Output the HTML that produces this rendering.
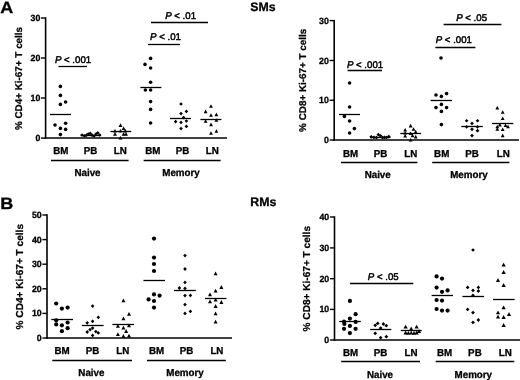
<!DOCTYPE html><html><head><meta charset="utf-8"><style>html,body{margin:0;padding:0;background:#fff}svg{display:block;filter:grayscale(1) blur(0.35px)}text{font-family:"Liberation Sans", sans-serif;fill:#000;text-rendering:geometricPrecision;stroke:#000;stroke-width:0.3px;stroke-linejoin:round}.p{stroke-width:0.48px}.t{stroke-width:0.3px}.c{stroke-width:0.3px}.y{stroke-width:0.25px}</style></head><body>
<svg width="520" height="380" viewBox="0 0 520 380">
<rect width="520" height="380" fill="#fff"/>
<g fill="#000">
<text transform="translate(0.3 12.8) scale(1.1 1)" font-size="16.4" font-weight="bold" stroke-width="0">A</text>
<text transform="translate(0.3 208.9) scale(1.1 1)" font-size="16.4" font-weight="bold" stroke-width="0">B</text>
<text x="263.0" y="10.9" font-size="12.3" font-weight="bold" text-anchor="middle" >SMs</text>
<text x="263.3" y="206.1" font-size="12.3" font-weight="bold" text-anchor="middle" >RMs</text>
<line x1="45.6" y1="17.3" x2="45.6" y2="138.8" stroke="#000" stroke-width="1.6"/>
<line x1="44.8" y1="138.1" x2="227.0" y2="138.1" stroke="#000" stroke-width="1.5"/>
<line x1="41.0" y1="18.0" x2="45.6" y2="18.0" stroke="#000" stroke-width="1.4"/>
<text transform="translate(40.3 21.0) scale(0.971 1)" font-size="9.06" font-weight="bold" text-anchor="end" class="t" >30</text>
<line x1="41.0" y1="58.0" x2="45.6" y2="58.0" stroke="#000" stroke-width="1.4"/>
<text transform="translate(40.3 61.0) scale(0.971 1)" font-size="9.06" font-weight="bold" text-anchor="end" class="t" >20</text>
<line x1="41.0" y1="98.0" x2="45.6" y2="98.0" stroke="#000" stroke-width="1.4"/>
<text transform="translate(40.3 101.0) scale(0.971 1)" font-size="9.06" font-weight="bold" text-anchor="end" class="t" >10</text>
<line x1="41.0" y1="138.1" x2="45.6" y2="138.1" stroke="#000" stroke-width="1.4"/>
<text transform="translate(40.3 141.1) scale(0.971 1)" font-size="9.06" font-weight="bold" text-anchor="end" class="t" >0</text>
<text transform="translate(22.0 78.5) rotate(-90)" class="y" font-size="9.9" font-weight="bold" text-anchor="middle">% CD4+ Ki-67+ T cells</text>
<text transform="translate(60.8 154.4) scale(0.971 1)" font-size="10.09" font-weight="bold" text-anchor="middle" class="c" >BM</text>
<text transform="translate(90.5 154.4) scale(0.971 1)" font-size="10.09" font-weight="bold" text-anchor="middle" class="c" >PB</text>
<text transform="translate(120.2 154.4) scale(0.971 1)" font-size="10.09" font-weight="bold" text-anchor="middle" class="c" >LN</text>
<text transform="translate(152.8 154.4) scale(0.971 1)" font-size="10.09" font-weight="bold" text-anchor="middle" class="c" >BM</text>
<text transform="translate(182.5 154.4) scale(0.971 1)" font-size="10.09" font-weight="bold" text-anchor="middle" class="c" >PB</text>
<text transform="translate(212.2 154.4) scale(0.971 1)" font-size="10.09" font-weight="bold" text-anchor="middle" class="c" >LN</text>
<line x1="51.0" y1="160.5" x2="128.6" y2="160.5" stroke="#000" stroke-width="1.3"/>
<text transform="translate(87.5 176.4) scale(0.971 1)" font-size="10.09" font-weight="bold" text-anchor="middle" class="c" >Naive</text>
<line x1="143.6" y1="160.5" x2="220.6" y2="160.5" stroke="#000" stroke-width="1.3"/>
<text transform="translate(181.0 176.4) scale(0.971 1)" font-size="10.09" font-weight="bold" text-anchor="middle" class="c" >Memory</text>
<circle cx="60.4" cy="86.4" r="1.8"/>
<circle cx="60.4" cy="95.4" r="1.8"/>
<circle cx="65.6" cy="102.0" r="1.8"/>
<circle cx="60.4" cy="104.4" r="1.8"/>
<circle cx="65.6" cy="123.2" r="1.8"/>
<circle cx="55.0" cy="125.0" r="1.8"/>
<circle cx="60.4" cy="128.4" r="1.8"/>
<circle cx="65.6" cy="129.4" r="1.8"/>
<circle cx="60.4" cy="134.6" r="1.8"/>
<line x1="50.0" y1="114.5" x2="71.0" y2="114.5" stroke="#000" stroke-width="1.3"/>
<path d="M82.0 133.2L83.8 135.0L82.0 136.8L80.2 135.0Z"/>
<path d="M84.5 134.1L86.3 135.9L84.5 137.8L82.7 135.9Z"/>
<path d="M86.5 133.3L88.3 135.2L86.5 137.0L84.7 135.2Z"/>
<path d="M88.3 132.2L90.1 134.0L88.3 135.8L86.5 134.0Z"/>
<path d="M90.2 131.6L92.0 133.4L90.2 135.2L88.4 133.4Z"/>
<path d="M92.0 133.3L93.8 135.2L92.0 137.0L90.2 135.2Z"/>
<path d="M94.0 134.1L95.8 135.9L94.0 137.8L92.2 135.9Z"/>
<path d="M96.0 132.2L97.8 134.0L96.0 135.8L94.2 134.0Z"/>
<path d="M97.8 131.1L99.6 132.9L97.8 134.8L96.0 132.9Z"/>
<path d="M99.7 133.2L101.5 135.0L99.7 136.8L97.9 135.0Z"/>
<line x1="80.6" y1="135.5" x2="101.0" y2="135.5" stroke="#000" stroke-width="1.3"/>
<path d="M120.5 123.3L122.5 126.9L118.5 126.9Z"/>
<path d="M123.6 126.5L125.5 130.1L121.6 130.1Z"/>
<path d="M115.0 129.0L117.0 132.6L113.0 132.6Z"/>
<path d="M120.5 129.0L122.5 132.6L118.5 132.6Z"/>
<path d="M125.3 129.0L127.2 132.6L123.3 132.6Z"/>
<path d="M115.0 132.2L117.0 135.8L113.0 135.8Z"/>
<path d="M123.6 132.2L125.5 135.8L121.6 135.8Z"/>
<path d="M126.0 132.2L128.0 135.8L124.0 135.8Z"/>
<path d="M120.5 135.9L122.5 139.5L118.5 139.5Z"/>
<line x1="110.4" y1="131.5" x2="131.2" y2="131.5" stroke="#000" stroke-width="1.3"/>
<circle cx="150.6" cy="58.4" r="1.8"/>
<circle cx="145.0" cy="64.4" r="1.8"/>
<circle cx="150.6" cy="68.0" r="1.8"/>
<circle cx="150.6" cy="82.2" r="1.8"/>
<circle cx="145.4" cy="90.0" r="1.8"/>
<circle cx="150.6" cy="90.0" r="1.8"/>
<circle cx="150.6" cy="101.6" r="1.8"/>
<circle cx="150.6" cy="109.4" r="1.8"/>
<circle cx="150.6" cy="123.0" r="1.8"/>
<line x1="140.4" y1="87.5" x2="161.4" y2="87.5" stroke="#000" stroke-width="1.3"/>
<path d="M181.0 102.2L182.8 104.0L181.0 105.8L179.2 104.0Z"/>
<path d="M186.4 109.6L188.2 111.4L186.4 113.2L184.6 111.4Z"/>
<path d="M181.0 111.8L182.8 113.6L181.0 115.4L179.2 113.6Z"/>
<path d="M183.6 115.8L185.4 117.6L183.6 119.4L181.8 117.6Z"/>
<path d="M175.6 119.8L177.4 121.6L175.6 123.4L173.8 121.6Z"/>
<path d="M181.0 120.6L182.8 122.4L181.0 124.2L179.2 122.4Z"/>
<path d="M186.4 119.2L188.2 121.0L186.4 122.8L184.6 121.0Z"/>
<path d="M186.4 124.6L188.2 126.4L186.4 128.2L184.6 126.4Z"/>
<path d="M181.0 126.8L182.8 128.6L181.0 130.4L179.2 128.6Z"/>
<line x1="170.0" y1="118.5" x2="191.0" y2="118.5" stroke="#000" stroke-width="1.3"/>
<path d="M211.0 104.2L212.9 107.8L209.1 107.8Z"/>
<path d="M205.6 109.6L207.5 113.2L203.7 113.2Z"/>
<path d="M211.0 113.2L212.9 116.8L209.1 116.8Z"/>
<path d="M216.4 112.6L218.3 116.2L214.5 116.2Z"/>
<path d="M205.6 119.2L207.5 122.8L203.7 122.8Z"/>
<path d="M216.4 118.2L218.3 121.8L214.5 121.8Z"/>
<path d="M211.0 122.6L212.9 126.2L209.1 126.2Z"/>
<path d="M216.4 129.2L218.3 132.8L214.5 132.8Z"/>
<path d="M211.0 131.2L212.9 134.8L209.1 134.8Z"/>
<line x1="200.4" y1="119.5" x2="221.4" y2="119.5" stroke="#000" stroke-width="1.3"/>
<text transform="translate(73.0 62.7) scale(0.990 1)" class="p" font-size="9.75" text-anchor="middle"><tspan font-style="italic">P</tspan> &lt; .001</text>
<line x1="58.5" y1="66.5" x2="87.0" y2="66.5" stroke="#000" stroke-width="1.3"/>
<text transform="translate(165.5 40.3) scale(0.990 1)" class="p" font-size="9.75" text-anchor="middle"><tspan font-style="italic">P</tspan> &lt; .01</text>
<line x1="148.0" y1="44.5" x2="180.0" y2="44.5" stroke="#000" stroke-width="1.3"/>
<text transform="translate(180.6 18.9) scale(0.990 1)" class="p" font-size="9.75" text-anchor="middle"><tspan font-style="italic">P</tspan> &lt; .01</text>
<line x1="151.0" y1="22.5" x2="208.0" y2="22.5" stroke="#000" stroke-width="1.3"/>
<line x1="334.2" y1="19.9" x2="334.2" y2="140.8" stroke="#000" stroke-width="1.6"/>
<line x1="333.4" y1="140.0" x2="519.0" y2="140.0" stroke="#000" stroke-width="1.5"/>
<line x1="329.6" y1="20.6" x2="334.2" y2="20.6" stroke="#000" stroke-width="1.4"/>
<text transform="translate(328.9 23.6) scale(0.971 1)" font-size="9.06" font-weight="bold" text-anchor="end" class="t" >30</text>
<line x1="329.6" y1="60.5" x2="334.2" y2="60.5" stroke="#000" stroke-width="1.4"/>
<text transform="translate(328.9 63.5) scale(0.971 1)" font-size="9.06" font-weight="bold" text-anchor="end" class="t" >20</text>
<line x1="329.6" y1="100.3" x2="334.2" y2="100.3" stroke="#000" stroke-width="1.4"/>
<text transform="translate(328.9 103.3) scale(0.971 1)" font-size="9.06" font-weight="bold" text-anchor="end" class="t" >10</text>
<line x1="329.6" y1="140.0" x2="334.2" y2="140.0" stroke="#000" stroke-width="1.4"/>
<text transform="translate(328.9 143.0) scale(0.971 1)" font-size="9.06" font-weight="bold" text-anchor="end" class="t" >0</text>
<text transform="translate(306.0 80.3) rotate(-90)" class="y" font-size="9.9" font-weight="bold" text-anchor="middle">% CD8+ Ki-67+ T cells</text>
<text transform="translate(350.6 156.5) scale(0.971 1)" font-size="10.09" font-weight="bold" text-anchor="middle" class="c" >BM</text>
<text transform="translate(380.5 156.5) scale(0.971 1)" font-size="10.09" font-weight="bold" text-anchor="middle" class="c" >PB</text>
<text transform="translate(410.8 156.5) scale(0.971 1)" font-size="10.09" font-weight="bold" text-anchor="middle" class="c" >LN</text>
<text transform="translate(441.7 156.5) scale(0.971 1)" font-size="10.09" font-weight="bold" text-anchor="middle" class="c" >BM</text>
<text transform="translate(472.0 156.5) scale(0.971 1)" font-size="10.09" font-weight="bold" text-anchor="middle" class="c" >PB</text>
<text transform="translate(503.2 156.5) scale(0.971 1)" font-size="10.09" font-weight="bold" text-anchor="middle" class="c" >LN</text>
<line x1="341.0" y1="162.5" x2="417.4" y2="162.5" stroke="#000" stroke-width="1.3"/>
<text transform="translate(377.7 178.2) scale(0.971 1)" font-size="10.09" font-weight="bold" text-anchor="middle" class="c" >Naive</text>
<line x1="432.2" y1="162.5" x2="509.4" y2="162.5" stroke="#000" stroke-width="1.3"/>
<text transform="translate(468.9 178.2) scale(0.971 1)" font-size="10.09" font-weight="bold" text-anchor="middle" class="c" >Memory</text>
<circle cx="349.6" cy="83.0" r="1.8"/>
<circle cx="349.6" cy="107.0" r="1.8"/>
<circle cx="344.4" cy="116.4" r="1.8"/>
<circle cx="349.6" cy="121.0" r="1.8"/>
<circle cx="354.4" cy="128.6" r="1.8"/>
<circle cx="349.6" cy="133.0" r="1.8"/>
<line x1="339.0" y1="114.5" x2="360.0" y2="114.5" stroke="#000" stroke-width="1.3"/>
<path d="M371.3 135.0L373.2 136.8L371.3 138.7L369.4 136.8Z"/>
<path d="M374.0 135.6L375.9 137.4L374.0 139.2L372.1 137.4Z"/>
<path d="M376.5 135.8L378.4 137.6L376.5 139.4L374.6 137.6Z"/>
<path d="M378.4 132.8L380.2 134.7L378.4 136.5L376.5 134.7Z"/>
<path d="M380.5 134.0L382.4 135.8L380.5 137.7L378.6 135.8Z"/>
<path d="M382.5 135.8L384.4 137.6L382.5 139.4L380.6 137.6Z"/>
<path d="M384.5 135.6L386.4 137.4L384.5 139.2L382.6 137.4Z"/>
<path d="M386.5 135.7L388.4 137.5L386.5 139.3L384.6 137.5Z"/>
<path d="M388.8 134.8L390.7 136.6L388.8 138.4L386.9 136.6Z"/>
<line x1="370.0" y1="137.5" x2="390.4" y2="137.5" stroke="#000" stroke-width="1.3"/>
<path d="M410.6 123.8L412.6 127.4L408.7 127.4Z"/>
<path d="M413.5 127.2L415.4 130.8L411.6 130.8Z"/>
<path d="M405.2 127.9L407.1 131.5L403.2 131.5Z"/>
<path d="M415.7 129.8L417.6 133.4L413.8 133.4Z"/>
<path d="M405.2 131.0L407.1 134.6L403.2 134.6Z"/>
<path d="M410.6 131.4L412.6 135.0L408.7 135.0Z"/>
<path d="M405.2 133.9L407.1 137.5L403.2 137.5Z"/>
<path d="M412.5 133.6L414.4 137.2L410.6 137.2Z"/>
<path d="M415.7 134.8L417.6 138.4L413.8 138.4Z"/>
<path d="M410.6 138.0L412.6 141.6L408.7 141.6Z"/>
<line x1="400.3" y1="133.5" x2="421.1" y2="133.5" stroke="#000" stroke-width="1.3"/>
<circle cx="441.0" cy="58.0" r="1.8"/>
<circle cx="436.0" cy="95.0" r="1.8"/>
<circle cx="441.4" cy="96.4" r="1.8"/>
<circle cx="446.6" cy="93.6" r="1.8"/>
<circle cx="441.4" cy="104.4" r="1.8"/>
<circle cx="436.0" cy="107.6" r="1.8"/>
<circle cx="446.6" cy="107.6" r="1.8"/>
<circle cx="441.4" cy="111.4" r="1.8"/>
<circle cx="441.4" cy="124.6" r="1.8"/>
<line x1="430.6" y1="100.5" x2="452.0" y2="100.5" stroke="#000" stroke-width="1.3"/>
<path d="M466.6 119.0L468.5 120.8L466.6 122.6L464.8 120.8Z"/>
<path d="M477.5 119.0L479.4 120.8L477.5 122.6L475.6 120.8Z"/>
<path d="M472.0 121.6L473.9 123.4L472.0 125.2L470.1 123.4Z"/>
<path d="M466.6 125.0L468.5 126.8L466.6 128.7L464.8 126.8Z"/>
<path d="M472.0 127.5L473.9 129.3L472.0 131.2L470.1 129.3Z"/>
<path d="M477.5 125.0L479.4 126.8L477.5 128.7L475.6 126.8Z"/>
<path d="M477.5 128.8L479.4 130.7L477.5 132.5L475.6 130.7Z"/>
<path d="M472.0 133.8L473.9 135.6L472.0 137.4L470.1 135.6Z"/>
<line x1="461.3" y1="126.5" x2="482.8" y2="126.5" stroke="#000" stroke-width="1.3"/>
<path d="M497.3 105.8L499.2 109.4L495.4 109.4Z"/>
<path d="M502.7 110.2L504.6 113.8L500.8 113.8Z"/>
<path d="M502.7 116.5L504.6 120.1L500.8 120.1Z"/>
<path d="M499.8 123.0L501.8 126.6L497.9 126.6Z"/>
<path d="M505.5 123.5L507.4 127.1L503.6 127.1Z"/>
<path d="M497.3 124.7L499.2 128.3L495.4 128.3Z"/>
<path d="M508.0 124.7L509.9 128.3L506.1 128.3Z"/>
<path d="M497.3 127.2L499.2 130.8L495.4 130.8Z"/>
<path d="M502.7 127.5L504.6 131.1L500.8 131.1Z"/>
<path d="M502.7 133.6L504.6 137.2L500.8 137.2Z"/>
<line x1="492.0" y1="123.5" x2="513.3" y2="123.5" stroke="#000" stroke-width="1.3"/>
<text transform="translate(365.0 67.9) scale(0.990 1)" class="p" font-size="9.75" text-anchor="middle"><tspan font-style="italic">P</tspan> &lt; .001</text>
<line x1="347.6" y1="70.5" x2="382.0" y2="70.5" stroke="#000" stroke-width="1.3"/>
<text transform="translate(453.8 43.3) scale(0.990 1)" class="p" font-size="9.75" text-anchor="middle"><tspan font-style="italic">P</tspan> &lt; .001</text>
<line x1="435.4" y1="47.5" x2="475.4" y2="47.5" stroke="#000" stroke-width="1.3"/>
<text transform="translate(471.6 21.3) scale(0.990 1)" class="p" font-size="9.75" text-anchor="middle"><tspan font-style="italic">P</tspan> &lt; .05</text>
<line x1="443.6" y1="24.5" x2="501.4" y2="24.5" stroke="#000" stroke-width="1.3"/>
<line x1="47.0" y1="214.3" x2="47.0" y2="338.8" stroke="#000" stroke-width="1.6"/>
<line x1="46.2" y1="338.0" x2="232.0" y2="338.0" stroke="#000" stroke-width="1.5"/>
<line x1="42.4" y1="215.0" x2="47.0" y2="215.0" stroke="#000" stroke-width="1.4"/>
<text transform="translate(41.7 218.0) scale(0.971 1)" font-size="9.06" font-weight="bold" text-anchor="end" class="t" >50</text>
<line x1="42.4" y1="239.6" x2="47.0" y2="239.6" stroke="#000" stroke-width="1.4"/>
<text transform="translate(41.7 242.6) scale(0.971 1)" font-size="9.06" font-weight="bold" text-anchor="end" class="t" >40</text>
<line x1="42.4" y1="264.2" x2="47.0" y2="264.2" stroke="#000" stroke-width="1.4"/>
<text transform="translate(41.7 267.2) scale(0.971 1)" font-size="9.06" font-weight="bold" text-anchor="end" class="t" >30</text>
<line x1="42.4" y1="288.8" x2="47.0" y2="288.8" stroke="#000" stroke-width="1.4"/>
<text transform="translate(41.7 291.8) scale(0.971 1)" font-size="9.06" font-weight="bold" text-anchor="end" class="t" >20</text>
<line x1="42.4" y1="313.4" x2="47.0" y2="313.4" stroke="#000" stroke-width="1.4"/>
<text transform="translate(41.7 316.4) scale(0.971 1)" font-size="9.06" font-weight="bold" text-anchor="end" class="t" >10</text>
<line x1="42.4" y1="338.0" x2="47.0" y2="338.0" stroke="#000" stroke-width="1.4"/>
<text transform="translate(41.7 341.0) scale(0.971 1)" font-size="9.06" font-weight="bold" text-anchor="end" class="t" >0</text>
<text transform="translate(23.0 276.7) rotate(-90)" class="y" font-size="10.1" font-weight="bold" text-anchor="middle">% CD4+ Ki-67+ T cells</text>
<text transform="translate(62.0 354.0) scale(0.971 1)" font-size="10.09" font-weight="bold" text-anchor="middle" class="c" >BM</text>
<text transform="translate(92.5 354.0) scale(0.971 1)" font-size="10.09" font-weight="bold" text-anchor="middle" class="c" >PB</text>
<text transform="translate(122.7 354.0) scale(0.971 1)" font-size="10.09" font-weight="bold" text-anchor="middle" class="c" >LN</text>
<text transform="translate(156.6 354.0) scale(0.971 1)" font-size="10.09" font-weight="bold" text-anchor="middle" class="c" >BM</text>
<text transform="translate(186.6 354.0) scale(0.971 1)" font-size="10.09" font-weight="bold" text-anchor="middle" class="c" >PB</text>
<text transform="translate(216.9 354.0) scale(0.971 1)" font-size="10.09" font-weight="bold" text-anchor="middle" class="c" >LN</text>
<line x1="52.3" y1="360.5" x2="132.0" y2="360.5" stroke="#000" stroke-width="1.3"/>
<text transform="translate(91.4 375.8) scale(0.971 1)" font-size="10.09" font-weight="bold" text-anchor="middle" class="c" >Naive</text>
<line x1="147.0" y1="360.5" x2="225.8" y2="360.5" stroke="#000" stroke-width="1.3"/>
<text transform="translate(185.0 375.8) scale(0.971 1)" font-size="10.09" font-weight="bold" text-anchor="middle" class="c" >Memory</text>
<circle cx="56.2" cy="303.5" r="2.1"/>
<circle cx="61.9" cy="308.6" r="2.1"/>
<circle cx="67.6" cy="307.6" r="2.1"/>
<circle cx="56.2" cy="320.3" r="2.1"/>
<circle cx="67.6" cy="322.5" r="2.1"/>
<circle cx="56.2" cy="324.4" r="2.1"/>
<circle cx="61.9" cy="325.3" r="2.1"/>
<circle cx="67.6" cy="328.2" r="2.1"/>
<circle cx="61.9" cy="331.2" r="2.1"/>
<line x1="51.3" y1="319.5" x2="73.0" y2="319.5" stroke="#000" stroke-width="1.3"/>
<path d="M92.6 304.2L94.4 306.1L92.6 308.0L90.8 306.1Z"/>
<path d="M98.3 315.4L100.1 317.3L98.3 319.2L96.5 317.3Z"/>
<path d="M92.6 319.4L94.4 321.3L92.6 323.2L90.8 321.3Z"/>
<path d="M87.2 320.9L89.0 322.8L87.2 324.7L85.4 322.8Z"/>
<path d="M92.6 326.2L94.4 328.1L92.6 330.0L90.8 328.1Z"/>
<path d="M90.0 327.8L91.8 329.7L90.0 331.6L88.2 329.7Z"/>
<path d="M87.2 330.1L89.0 332.0L87.2 333.9L85.4 332.0Z"/>
<path d="M95.8 329.8L97.6 331.6L95.8 333.5L94.0 331.6Z"/>
<path d="M98.3 331.0L100.1 332.9L98.3 334.8L96.5 332.9Z"/>
<path d="M92.6 333.5L94.4 335.4L92.6 337.2L90.8 335.4Z"/>
<line x1="81.9" y1="325.5" x2="103.6" y2="325.5" stroke="#000" stroke-width="1.3"/>
<path d="M123.4 298.4L125.4 302.2L121.4 302.2Z"/>
<path d="M129.0 312.0L131.0 315.8L127.0 315.8Z"/>
<path d="M123.4 316.5L125.4 320.2L121.4 320.2Z"/>
<path d="M117.9 324.0L119.9 327.8L115.9 327.8Z"/>
<path d="M129.0 323.4L131.0 327.2L127.0 327.2Z"/>
<path d="M123.4 325.8L125.4 329.5L121.4 329.5Z"/>
<path d="M126.1 329.1L128.1 332.9L124.1 332.9Z"/>
<path d="M117.9 332.2L119.9 336.0L115.9 336.0Z"/>
<path d="M123.4 334.1L125.4 337.9L121.4 337.9Z"/>
<path d="M129.0 333.8L131.0 337.6L127.0 337.6Z"/>
<line x1="112.4" y1="324.5" x2="134.1" y2="324.5" stroke="#000" stroke-width="1.3"/>
<circle cx="154.0" cy="238.6" r="2.1"/>
<circle cx="154.0" cy="257.6" r="2.1"/>
<circle cx="154.0" cy="264.0" r="2.1"/>
<circle cx="154.0" cy="271.0" r="2.1"/>
<circle cx="154.0" cy="294.4" r="2.1"/>
<circle cx="159.6" cy="295.6" r="2.1"/>
<circle cx="148.6" cy="299.4" r="2.1"/>
<circle cx="154.0" cy="301.0" r="2.1"/>
<circle cx="154.0" cy="307.6" r="2.1"/>
<line x1="143.4" y1="280.5" x2="165.0" y2="280.5" stroke="#000" stroke-width="1.3"/>
<path d="M185.0 253.8L186.8 255.6L185.0 257.4L183.2 255.6Z"/>
<path d="M185.0 267.1L186.8 269.0L185.0 270.9L183.2 269.0Z"/>
<path d="M185.0 280.5L186.8 282.4L185.0 284.2L183.2 282.4Z"/>
<path d="M179.4 286.1L181.2 288.0L179.4 289.9L177.6 288.0Z"/>
<path d="M185.0 286.5L186.8 288.4L185.0 290.2L183.2 288.4Z"/>
<path d="M185.0 293.8L186.8 295.6L185.0 297.5L183.2 295.6Z"/>
<path d="M190.4 293.5L192.2 295.4L190.4 297.2L188.6 295.4Z"/>
<path d="M185.0 302.8L186.8 304.6L185.0 306.5L183.2 304.6Z"/>
<path d="M190.4 309.5L192.2 311.4L190.4 313.2L188.6 311.4Z"/>
<path d="M185.0 311.5L186.8 313.4L185.0 315.2L183.2 313.4Z"/>
<line x1="174.0" y1="290.5" x2="195.8" y2="290.5" stroke="#000" stroke-width="1.3"/>
<path d="M215.6 271.5L217.6 275.2L213.6 275.2Z"/>
<path d="M221.4 285.1L223.4 288.9L219.4 288.9Z"/>
<path d="M215.6 288.8L217.6 292.5L213.6 292.5Z"/>
<path d="M210.0 292.5L212.0 296.2L208.0 296.2Z"/>
<path d="M215.6 297.8L217.6 301.5L213.6 301.5Z"/>
<path d="M210.0 299.5L212.0 303.2L208.0 303.2Z"/>
<path d="M221.4 300.1L223.4 303.9L219.4 303.9Z"/>
<path d="M215.6 304.1L217.6 307.9L213.6 307.9Z"/>
<path d="M215.6 311.5L217.6 315.2L213.6 315.2Z"/>
<path d="M215.6 319.8L217.6 323.5L213.6 323.5Z"/>
<line x1="205.0" y1="298.5" x2="226.4" y2="298.5" stroke="#000" stroke-width="1.3"/>
<line x1="334.5" y1="216.3" x2="334.5" y2="340.8" stroke="#000" stroke-width="1.6"/>
<line x1="333.7" y1="340.0" x2="520.0" y2="340.0" stroke="#000" stroke-width="1.5"/>
<line x1="329.9" y1="217.0" x2="334.5" y2="217.0" stroke="#000" stroke-width="1.4"/>
<text transform="translate(329.2 220.0) scale(0.971 1)" font-size="9.06" font-weight="bold" text-anchor="end" class="t" >40</text>
<line x1="329.9" y1="247.9" x2="334.5" y2="247.9" stroke="#000" stroke-width="1.4"/>
<text transform="translate(329.2 250.9) scale(0.971 1)" font-size="9.06" font-weight="bold" text-anchor="end" class="t" >30</text>
<line x1="329.9" y1="278.7" x2="334.5" y2="278.7" stroke="#000" stroke-width="1.4"/>
<text transform="translate(329.2 281.7) scale(0.971 1)" font-size="9.06" font-weight="bold" text-anchor="end" class="t" >20</text>
<line x1="329.9" y1="309.4" x2="334.5" y2="309.4" stroke="#000" stroke-width="1.4"/>
<text transform="translate(329.2 312.4) scale(0.971 1)" font-size="9.06" font-weight="bold" text-anchor="end" class="t" >10</text>
<line x1="329.9" y1="340.0" x2="334.5" y2="340.0" stroke="#000" stroke-width="1.4"/>
<text transform="translate(329.2 343.0) scale(0.971 1)" font-size="9.06" font-weight="bold" text-anchor="end" class="t" >0</text>
<text transform="translate(309.8 278.7) rotate(-90)" class="y" font-size="10.1" font-weight="bold" text-anchor="middle">% CD8+ Ki-67+ T cells</text>
<text transform="translate(350.6 355.5) scale(0.971 1)" font-size="10.09" font-weight="bold" text-anchor="middle" class="c" >BM</text>
<text transform="translate(380.5 355.5) scale(0.971 1)" font-size="10.09" font-weight="bold" text-anchor="middle" class="c" >PB</text>
<text transform="translate(411.0 355.5) scale(0.971 1)" font-size="10.09" font-weight="bold" text-anchor="middle" class="c" >LN</text>
<text transform="translate(444.5 355.5) scale(0.971 1)" font-size="10.09" font-weight="bold" text-anchor="middle" class="c" >BM</text>
<text transform="translate(474.9 355.5) scale(0.971 1)" font-size="10.09" font-weight="bold" text-anchor="middle" class="c" >PB</text>
<text transform="translate(505.3 355.5) scale(0.971 1)" font-size="10.09" font-weight="bold" text-anchor="middle" class="c" >LN</text>
<line x1="341.2" y1="361.5" x2="420.0" y2="361.5" stroke="#000" stroke-width="1.3"/>
<text transform="translate(380.0 377.8) scale(0.971 1)" font-size="10.09" font-weight="bold" text-anchor="middle" class="c" >Naive</text>
<line x1="435.7" y1="361.5" x2="514.3" y2="361.5" stroke="#000" stroke-width="1.3"/>
<text transform="translate(473.3 377.8) scale(0.971 1)" font-size="10.09" font-weight="bold" text-anchor="middle" class="c" >Memory</text>
<circle cx="349.9" cy="300.9" r="2.1"/>
<circle cx="355.6" cy="314.2" r="2.1"/>
<circle cx="349.9" cy="318.6" r="2.1"/>
<circle cx="344.0" cy="321.7" r="2.1"/>
<circle cx="355.6" cy="321.9" r="2.1"/>
<circle cx="344.4" cy="323.9" r="2.1"/>
<circle cx="349.9" cy="325.9" r="2.1"/>
<circle cx="344.0" cy="328.8" r="2.1"/>
<circle cx="355.6" cy="328.8" r="2.1"/>
<circle cx="349.9" cy="333.1" r="2.1"/>
<line x1="339.2" y1="321.5" x2="360.8" y2="321.5" stroke="#000" stroke-width="1.3"/>
<path d="M377.7 321.5L379.6 323.4L377.7 325.2L375.8 323.4Z"/>
<path d="M375.2 323.4L377.1 325.3L375.2 327.2L373.3 325.3Z"/>
<path d="M383.4 322.1L385.2 324.0L383.4 325.9L381.5 324.0Z"/>
<path d="M386.3 323.8L388.2 325.7L386.3 327.6L384.4 325.7Z"/>
<path d="M380.6 326.2L382.5 328.1L380.6 330.0L378.8 328.1Z"/>
<path d="M375.2 331.4L377.1 333.3L375.2 335.2L373.3 333.3Z"/>
<path d="M380.6 335.8L382.5 337.7L380.6 339.6L378.8 337.7Z"/>
<path d="M386.3 334.8L388.2 336.7L386.3 338.6L384.4 336.7Z"/>
<line x1="370.1" y1="329.5" x2="391.3" y2="329.5" stroke="#000" stroke-width="1.3"/>
<path d="M405.6 324.7L407.8 328.6L403.5 328.6Z"/>
<path d="M416.6 324.7L418.8 328.6L414.5 328.6Z"/>
<path d="M411.2 326.6L413.3 330.4L409.1 330.4Z"/>
<path d="M405.6 330.7L407.8 334.6L403.5 334.6Z"/>
<path d="M408.4 330.9L410.5 334.8L406.2 334.8Z"/>
<path d="M411.2 330.7L413.3 334.6L409.1 334.6Z"/>
<path d="M414.0 330.9L416.1 334.8L411.9 334.8Z"/>
<path d="M416.6 330.7L418.8 334.6L414.5 334.6Z"/>
<path d="M419.0 329.1L421.1 332.9L416.9 332.9Z"/>
<line x1="400.8" y1="330.5" x2="421.7" y2="330.5" stroke="#000" stroke-width="1.3"/>
<circle cx="436.6" cy="276.4" r="2.1"/>
<circle cx="442.0" cy="278.6" r="2.1"/>
<circle cx="436.6" cy="287.6" r="2.1"/>
<circle cx="442.0" cy="291.8" r="2.1"/>
<circle cx="447.6" cy="290.4" r="2.1"/>
<circle cx="436.6" cy="300.0" r="2.1"/>
<circle cx="442.0" cy="300.6" r="2.1"/>
<circle cx="436.6" cy="309.0" r="2.1"/>
<circle cx="442.0" cy="310.6" r="2.1"/>
<circle cx="447.6" cy="310.6" r="2.1"/>
<line x1="431.6" y1="295.5" x2="453.0" y2="295.5" stroke="#000" stroke-width="1.3"/>
<path d="M473.0 248.2L474.9 250.0L473.0 251.8L471.1 250.0Z"/>
<path d="M467.6 285.5L469.5 287.4L467.6 289.2L465.8 287.4Z"/>
<path d="M478.4 285.5L480.2 287.4L478.4 289.2L476.5 287.4Z"/>
<path d="M473.0 288.5L474.9 290.4L473.0 292.2L471.1 290.4Z"/>
<path d="M478.4 289.1L480.2 291.0L478.4 292.9L476.5 291.0Z"/>
<path d="M473.0 293.5L474.9 295.4L473.0 297.2L471.1 295.4Z"/>
<path d="M467.6 307.5L469.5 309.4L467.6 311.2L465.8 309.4Z"/>
<path d="M473.0 310.8L474.9 312.6L473.0 314.5L471.1 312.6Z"/>
<path d="M478.4 318.1L480.2 320.0L478.4 321.9L476.5 320.0Z"/>
<path d="M473.0 320.5L474.9 322.4L473.0 324.2L471.1 322.4Z"/>
<line x1="462.4" y1="296.5" x2="484.0" y2="296.5" stroke="#000" stroke-width="1.3"/>
<path d="M503.6 262.7L505.8 266.6L501.5 266.6Z"/>
<path d="M503.6 270.1L505.8 273.9L501.5 273.9Z"/>
<path d="M498.0 278.1L500.1 281.9L495.9 281.9Z"/>
<path d="M503.6 283.1L505.8 286.9L501.5 286.9Z"/>
<path d="M503.6 305.4L505.8 309.3L501.5 309.3Z"/>
<path d="M498.0 310.4L500.1 314.3L495.9 314.3Z"/>
<path d="M509.0 312.1L511.1 315.9L506.9 315.9Z"/>
<path d="M498.0 314.7L500.1 318.6L495.9 318.6Z"/>
<path d="M503.6 315.1L505.8 318.9L501.5 318.9Z"/>
<path d="M503.6 323.1L505.8 326.9L501.5 326.9Z"/>
<line x1="493.0" y1="299.5" x2="514.6" y2="299.5" stroke="#000" stroke-width="1.3"/>
<text transform="translate(383.2 279.6) scale(0.990 1)" class="p" font-size="9.75" text-anchor="middle"><tspan font-style="italic">P</tspan> &lt; .05</text>
<line x1="350.0" y1="283.5" x2="413.3" y2="283.5" stroke="#000" stroke-width="1.3"/>
</g></svg></body></html>
